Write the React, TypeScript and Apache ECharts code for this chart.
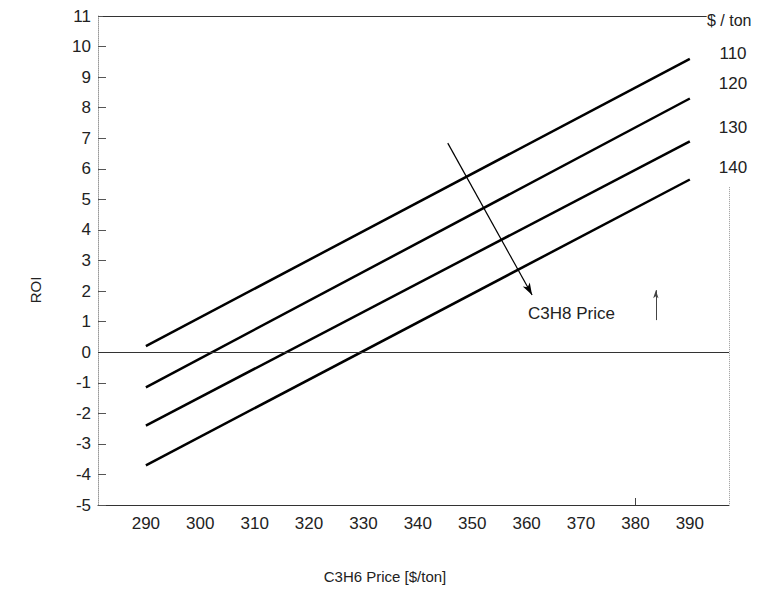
import React, { useEffect, useRef } from "react";
import * as echarts from "echarts";

// C3H6 price [$/ton] (x) at the two ends of each straight line
const c3h6Price = [290, 390];
// ROI for each C3H8 price [$/ton]
const roi110 = [0.2, 9.6];
const roi120 = [-1.15, 8.3];
const roi130 = [-2.4, 6.9];
const roi140 = [-3.7, 5.65];
const c3h8Labels = ["110", "120", "130", "140"];
const xTickLabels = [290, 300, 310, 320, 330, 340, 350, 360, 370, 380, 390];
// direction arrow (increasing C3H8 price), start and end in data units
const arrowStart = [345.5, 6.84];
const arrowEnd = [361, 1.87];
const smallArrowStart = [383.75, 1.05];
const smallArrowEnd = [383.75, 2.03];

const X_MIN = 281.2;
const X_MAX = 397.2;
const FONT = "Liberation Sans, Arial, Helvetica, sans-serif";

export default function App() {
  const ref = useRef<HTMLDivElement>(null);

  useEffect(() => {
    if (!ref.current) return;
    const chart = echarts.init(ref.current, null, { renderer: "svg" });
    const mk = (ys: number[]) => c3h6Price.map((x, i) => [x, ys[i]]);
    const lineSeries = (name: string, ys: number[], extra: any = {}) => ({
      type: "line",
      name,
      data: mk(ys),
      symbol: "none",
      lineStyle: { color: "#000", width: 2.5 },
      silent: true,
      ...extra,
    });

    const labelYs = [53, 83, 127, 167];

    chart.setOption({
      animation: false,
      backgroundColor: "#fff",
      grid: { left: 98, right: 42, top: 16, bottom: 86, containLabel: false },
      xAxis: {
        type: "value",
        min: X_MIN,
        max: X_MAX,
        axisLine: { show: true, onZero: false, lineStyle: { color: "#333", width: 1 } },
        axisTick: { show: true, inside: true, length: 7, customValues: [380], lineStyle: { color: "#444" } },
        axisLabel: {
          customValues: xTickLabels,
          color: "#222",
          fontSize: 17,
          fontFamily: FONT,
          margin: 10,
        },
        splitLine: { show: false },
      },
      yAxis: {
        type: "value",
        min: -5,
        max: 11,
        interval: 1,
        axisLine: { show: true, lineStyle: { color: "#999", width: 1, type: "dotted" } },
        axisTick: { show: true, inside: true, length: 8, lineStyle: { color: "#555" } },
        axisLabel: { color: "#222", fontSize: 17, fontFamily: FONT, margin: 7 },
        splitLine: { show: false },
      },
      series: [
        lineSeries("110", roi110, {
          markLine: {
            silent: true,
            animation: false,
            label: { show: false },
            symbol: ["none", "none"],
            data: [
              [
                { yAxis: 0, x: 98, lineStyle: { color: "#333", width: 1, type: "solid" } },
                { yAxis: 0, x: 729 },
              ],
              [
                { coord: [282.1, 11], lineStyle: { color: "#333", width: 1, type: "solid" } },
                { coord: [393.1, 11] },
              ],
              [
                { coord: [X_MAX, 5.4], lineStyle: { color: "#999", width: 1, type: "dotted" } },
                { coord: [X_MAX, -5] },
              ],
              [
                { coord: arrowStart, symbol: "none", lineStyle: { color: "#000", width: 1.2, type: "solid" } },
                { coord: arrowEnd, symbol: "arrow", symbolSize: [6, 12] },
              ],
              [
                { coord: smallArrowStart, symbol: "none", lineStyle: { color: "#444", width: 1, type: "solid" } },
                { coord: smallArrowEnd, symbol: "arrow", symbolSize: [4, 8] },
              ],
            ],
          },
        }),
        lineSeries("120", roi120),
        lineSeries("130", roi130),
        lineSeries("140", roi140),
      ],
      graphic: [
        ...c3h8Labels.map((t, i) => ({
          type: "text",
          x: 733,
          y: labelYs[i],
          style: { text: t, fill: "#222", font: `17px ${FONT}`, align: "center", verticalAlign: "middle" },
        })),
        {
          type: "text",
          x: 707,
          y: 20,
          style: { text: "$ / ton", fill: "#222", font: `16px ${FONT}`, align: "left", verticalAlign: "middle" },
        },
        {
          type: "text",
          x: 528,
          y: 313,
          style: { text: "C3H8 Price", fill: "#222", font: `17px ${FONT}`, align: "left", verticalAlign: "middle" },
        },
        {
          type: "text",
          x: 35,
          y: 290,
          rotation: Math.PI / 2,
          style: { text: "ROI", fill: "#222", font: `15px ${FONT}`, align: "center", verticalAlign: "middle" },
        },
        {
          type: "text",
          x: 385,
          y: 576,
          style: { text: "C3H6 Price [$/ton]", fill: "#222", font: `15px ${FONT}`, align: "center", verticalAlign: "middle" },
        },
      ],
    });
    return () => chart.dispose();
  }, []);

  return (
    <div
      ref={ref}
      style={{ position: "fixed", left: 0, top: 0, width: 771, height: 591, background: "#fff" }}
    />
  );
}
